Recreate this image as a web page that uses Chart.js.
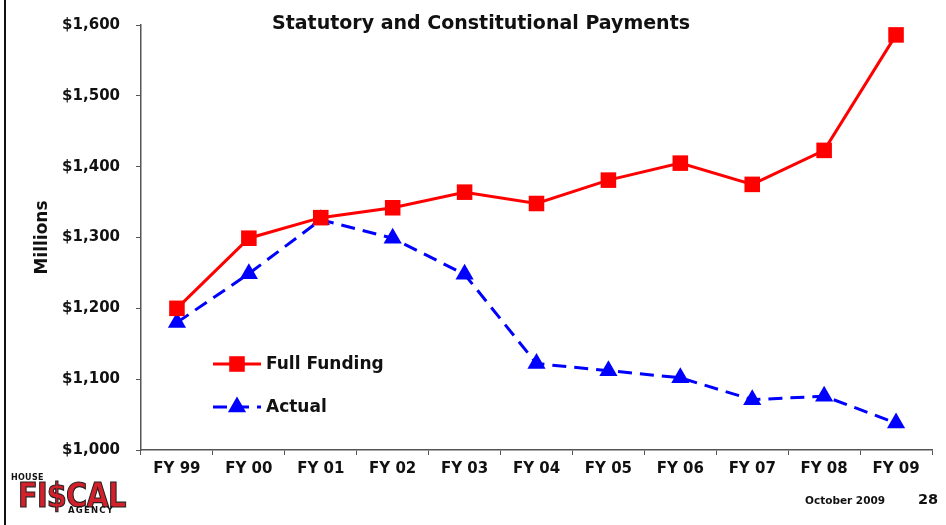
<!DOCTYPE html>
<html>
<head>
<meta charset="utf-8">
<script src="https://cdn.jsdelivr.net/npm/chart.js@4.4.1/dist/chart.umd.min.js"></script>
<style>
  body { margin: 0; background: #fff; font-family: "DejaVu Sans", sans-serif; }
  #wrap { position: relative; width: 946px; height: 525px; overflow: hidden; }
  #chart { position: absolute; left: 0; top: 0; }
  .abs { position: absolute; white-space: nowrap; font-weight: bold; color: #111; }
  #edge { position: absolute; left: 4px; top: 0; width: 2px; height: 525px; background: #111; }
  #title { left: 481px; top: 11px; transform: translateX(-50%); font-size: 19px; }
  #date { left: 805px; top: 494px; font-size: 10.5px; }
  #page { left: 918px; top: 491px; font-size: 14.5px; }
  #house { left: 11px; top: 473px; font-size: 8px; font-weight: 900; letter-spacing: 0.3px; }
  #fiscal { left: 18px; top: 475px; font-size: 34px; font-weight: 900; color: #d4202a;
            -webkit-text-stroke: 1.2px #222; transform: scaleX(0.85); transform-origin: left top; letter-spacing: -1px; }
  #agency { left: 68px; top: 505px; font-size: 8.5px; font-weight: 900; letter-spacing: 1.2px; }
</style>
</head>
<body>
<div id="wrap">
  <canvas id="chart" width="946" height="525"></canvas>
  <div id="edge"></div>
  <div class="abs" id="title">Statutory and Constitutional Payments</div>
  <div class="abs" id="fiscal">FI$CAL</div>
  <div class="abs" id="house">HOUSE</div>
  <div class="abs" id="agency">AGENCY</div>
  <div class="abs" id="date">October 2009</div>
  <div class="abs" id="page">28</div>
</div>
<script>
// data (millions)
let years = ['FY 99', 'FY 00', 'FY 01', 'FY 02', 'FY 03', 'FY 04', 'FY 05', 'FY 06', 'FY 07', 'FY 08', 'FY 09'];
let fullFunding = [1200, 1299, 1328, 1342, 1364, 1348, 1381, 1405, 1375, 1423, 1586];
let actual = [1180, 1249, 1325, 1299, 1248, 1122, 1112, 1102, 1071, 1076, 1038];
let yTicks = [1000, 1100, 1200, 1300, 1400, 1500, 1600];

let labelFont = { family: 'DejaVu Sans', size: 15, weight: 'bold' };

// legend drawn inside the plot, like the original slide
let innerLegend = {
  id: 'innerLegend',
  afterDraw(chart) {
    let ctx = chart.ctx;
    let items = [
      { text: 'Full Funding', y: 364, color: '#ff0000', dash: [], style: 'rect', r: 11 },
      { text: 'Actual', y: 407, color: '#0000ff', dash: [14, 8], style: 'triangle', r: 10.5 }
    ];
    items.forEach(function (it) {
      ctx.save();
      ctx.strokeStyle = it.color;
      ctx.lineWidth = 3;
      ctx.setLineDash(it.dash);
      ctx.beginPath();
      ctx.moveTo(213, it.y);
      ctx.lineTo(261, it.y);
      ctx.stroke();
      ctx.setLineDash([]);
      ctx.fillStyle = it.color;
      Chart.helpers.drawPoint(ctx, { pointStyle: it.style, radius: it.r, borderWidth: 0 }, 237, it.y);
      ctx.fillStyle = '#111';
      ctx.font = 'bold 17px "DejaVu Sans"';
      ctx.textBaseline = 'middle';
      ctx.fillText(it.text, 266, it.y + 1);
      ctx.restore();
    });
  }
};

new Chart(document.getElementById('chart'), {
  type: 'line',
  data: {
    labels: years,
    datasets: [
      {
        label: 'Full Funding',
        data: fullFunding,
        borderColor: '#ff0000',
        backgroundColor: '#ff0000',
        borderWidth: 3,
        pointStyle: 'rect',
        pointRadius: 11,
        pointBorderWidth: 0,
        fill: false,
        tension: 0
      },
      {
        label: 'Actual',
        data: actual,
        borderColor: '#0000ff',
        backgroundColor: '#0000ff',
        borderWidth: 3,
        borderDash: [14, 8],
        pointStyle: 'triangle',
        pointRadius: 10.5,
        pointBorderWidth: 0,
        fill: false,
        tension: 0
      }
    ]
  },
  options: {
    responsive: false,
    animation: false,
    layout: { padding: { left: 28, top: 24, right: 14, bottom: 42 } },
    plugins: {
      legend: { display: false },
      title: { display: false },
      tooltip: { enabled: false }
    },
    scales: {
      x: {
        offset: true,
        grid: { drawOnChartArea: false, drawTicks: true, tickLength: 5, color: '#555', offset: true },
        border: { display: true, color: '#555', width: 1.5 },
        ticks: { color: '#111', font: labelFont, padding: 5, maxRotation: 0 }
      },
      y: {
        min: 1000,
        max: 1600,
        afterFit: function (scale) { scale.width = 113; },
        afterBuildTicks: function (scale) { scale.ticks = yTicks.map(function (v) { return { value: v }; }); },
        grid: { drawOnChartArea: false, drawTicks: true, tickLength: 5, color: '#555' },
        border: { display: true, color: '#555', width: 1.5 },
        ticks: {
          color: '#111',
          font: labelFont,
          padding: 16,
          callback: function (v) { return '$' + v.toLocaleString('en-US'); }
        },
        title: {
          display: true,
          text: 'Millions',
          color: '#111',
          font: { family: 'DejaVu Sans', size: 17, weight: 'bold' },
          padding: { top: 4, bottom: 0 }
        }
      }
    }
  },
  plugins: [innerLegend]
});
</script>
</body>
</html>
